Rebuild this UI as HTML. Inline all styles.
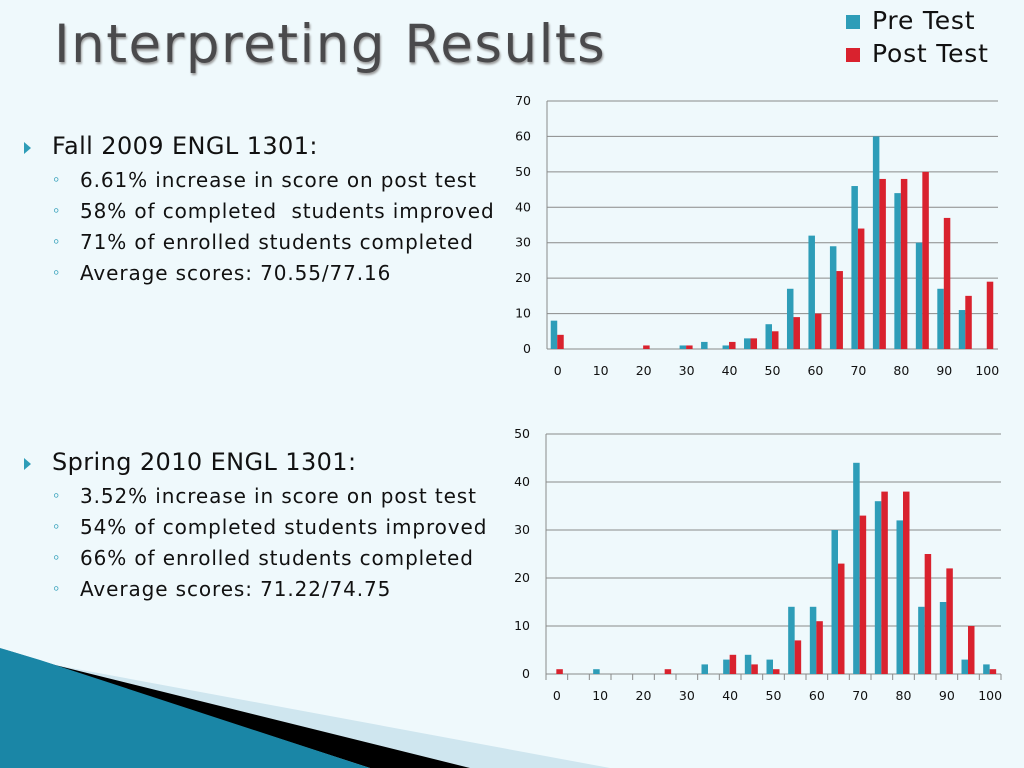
<!DOCTYPE html>
<html><head><meta charset="utf-8">
<style>
body{margin:0;width:1024px;height:768px;overflow:hidden;background:#eff9fc;font-family:"Liberation Sans","DejaVu Sans",sans-serif;position:relative}
#title{position:absolute;left:54px;top:14px;font-size:53px;color:#4a4a4c;letter-spacing:1.5px;text-shadow:1px 2px 2px #999;font-family:"DejaVu Sans","Liberation Sans",sans-serif}
.b1{position:absolute;left:52px;font-size:24px;color:#111;font-family:"DejaVu Sans",sans-serif;letter-spacing:0.4px}
.b2{position:absolute;left:80px;font-size:20px;color:#111;font-family:"DejaVu Sans",sans-serif;letter-spacing:0.9px}
.tri{position:absolute;left:24px;width:0;height:0;border-top:6px solid transparent;border-bottom:6px solid transparent;border-left:7px solid #2e9db8}
.circ{position:absolute;left:53px;font-size:18px;color:#2e9db8}
</style></head><body>
<svg width="1024" height="768" style="position:absolute;left:0;top:0">
<polygon points="55,665 610,768 465,768" fill="#cfe6ef"/>
<polygon points="0,648 55,665 470,768 370,768" fill="#000"/>
<polygon points="0,648 40,660 370,768 0,768" fill="#1a86a6"/>
</svg>
<div id="title">Interpreting Results</div>

<div class="tri" style="top:142px"></div>
<div class="b1" style="top:132px">Fall 2009 ENGL 1301:</div>
<div class="circ" style="top:169px">◦</div><div class="b2" style="top:168px">6.61% increase in score on post test</div>
<div class="circ" style="top:200px">◦</div><div class="b2" style="top:199px">58% of completed &nbsp;students improved</div>
<div class="circ" style="top:231px">◦</div><div class="b2" style="top:230px">71% of enrolled students completed</div>
<div class="circ" style="top:262px">◦</div><div class="b2" style="top:261px">Average scores: 70.55/77.16</div>

<div class="tri" style="top:458px"></div>
<div class="b1" style="top:448px">Spring 2010 ENGL 1301:</div>
<div class="circ" style="top:485px">◦</div><div class="b2" style="top:484px">3.52% increase in score on post test</div>
<div class="circ" style="top:516px">◦</div><div class="b2" style="top:515px">54% of completed students improved</div>
<div class="circ" style="top:547px">◦</div><div class="b2" style="top:546px">66% of enrolled students completed</div>
<div class="circ" style="top:578px">◦</div><div class="b2" style="top:577px">Average scores: 71.22/74.75</div>

<div style="position:absolute;left:846px;top:4px;font-size:25px;color:#111;font-family:'DejaVu Sans',sans-serif;line-height:33px;letter-spacing:0.8px">
<div><span style="display:inline-block;width:14px;height:14px;background:#2e9db8;margin-right:12px"></span>Pre Test</div>
<div><span style="display:inline-block;width:14px;height:14px;background:#d9222e;margin-right:12px"></span>Post Test</div>
</div>

<svg id="chart" width="1024" height="768" style="position:absolute;left:0;top:0;font-family:'DejaVu Sans',sans-serif"></svg>
<script>
const categories=[0,5,10,15,20,25,30,35,40,45,50,55,60,65,70,75,80,85,90,95,100];
const fallPre=[8,0,0,0,0,0,1,2,1,3,7,17,32,29,46,60,44,30,17,11,0];
const fallPost=[4,0,0,0,1,0,1,0,2,3,5,9,10,22,34,48,48,50,37,15,19];
const springPre=[0,0,1,0,0,0,0,2,3,4,3,14,14,30,44,36,32,14,15,3,2];
const springPost=[1,0,0,0,0,1,0,0,4,2,1,7,11,23,33,38,38,25,22,10,1];
const fallTicks=[0,10,20,30,40,50,60,70];
const springTicks=[0,10,20,30,40,50];
const NS='http://www.w3.org/2000/svg';
const svg=document.getElementById('chart');
function mk(t,a){const e=document.createElementNS(NS,t);for(const k in a)e.setAttribute(k,a[k]);svg.appendChild(e);return e;}
function draw(cfg){
  const {x0,x1,y0,y1,ymax,ticks,pre,post,tickMarks,name}=cfg;
  const bw=(x1-x0)/categories.length;
  const y=v=>y0-(v/ymax)*(y0-y1);
  ticks.forEach(t=>{
    const l=mk('line',{x1:x0,x2:x1,y1:y(t),y2:y(t),stroke:'#8a8a8a','stroke-width':1});
    
    
    const tx=mk('text',{x:x0-16,y:y(t)+4,'font-size':12.5,'text-anchor':'end',fill:'#111'});
    tx.textContent=t;
    
    
  });
  const ax=mk('line',{x1:x0,x2:x0,y1:y1,y2:y0+(tickMarks?6:0),stroke:'#8a8a8a'});
  
  
  categories.forEach((c,i)=>{
    const cx=x0+(i+0.5)*bw;
    if(tickMarks){const tm=mk('line',{x1:x0+(i+1)*bw,x2:x0+(i+1)*bw,y1:y0,y2:y0+6,stroke:'#8a8a8a'});
      
      }
    const b1=mk('rect',{x:cx-7,y:y(pre[i]),width:6.5,height:y0-y(pre[i]),fill:'#2e9db8'});
    
    
    const b2=mk('rect',{x:cx-0.5,y:y(post[i]),width:6.5,height:y0-y(post[i]),fill:'#d9222e'});
    
    
    if(c%10===0){const t=mk('text',{x:cx,y:y0+26,'font-size':12.5,'text-anchor':'middle',fill:'#111'});
      t.textContent=c;
      
      }
  });
}
draw({x0:547,x1:998,y0:349,y1:101,ymax:70,ticks:fallTicks,pre:fallPre,post:fallPost,tickMarks:false,name:'fall-chart'});
draw({x0:546,x1:1001,y0:674,y1:434,ymax:50,ticks:springTicks,pre:springPre,post:springPost,tickMarks:true,name:'spring-chart'});
</script>
</body></html>
